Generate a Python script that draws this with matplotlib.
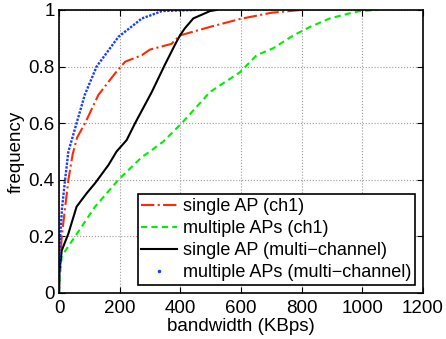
import matplotlib
matplotlib.use("Agg")
import matplotlib.pyplot as plt
from matplotlib.lines import Line2D

plt.rcParams['font.family'] = ['Liberation Sans', 'DejaVu Sans']

# CDF knots (bandwidth in KBps, cumulative frequency)
single_ch1_x = [0, 2, 9, 20, 31, 45, 60, 86, 130, 185, 218, 273, 300, 371, 399, 498, 597, 700, 800]
single_ch1_y = [0, 0.08, 0.2, 0.3, 0.4, 0.49, 0.55, 0.6, 0.7, 0.776, 0.817, 0.84, 0.86, 0.88, 0.91, 0.94, 0.968, 0.99, 1.0]

multi_ch1_x = [0, 2, 9, 53, 119, 196, 273, 300, 344, 405, 498, 597, 652, 707, 773, 828, 893, 959, 992, 1050]
multi_ch1_y = [0, 0.05, 0.13, 0.2, 0.305, 0.4, 0.48, 0.5, 0.535, 0.6, 0.71, 0.78, 0.84, 0.865, 0.91, 0.94, 0.97, 0.988, 0.996, 1.0]

single_mc_x = [0, 1, 9, 31, 58, 91, 119, 163, 190, 223, 251, 306, 349, 382, 399, 415, 443, 498, 520]
single_mc_y = [0, 0.07, 0.15, 0.21, 0.305, 0.352, 0.388, 0.452, 0.5, 0.54, 0.6, 0.71, 0.806, 0.876, 0.91, 0.935, 0.97, 0.996, 1.0]

multi_mc_x = [0, 1, 4, 10, 20, 31, 58, 85, 124, 196, 250, 273, 300, 339, 450]
multi_mc_y = [0, 0.1, 0.2, 0.3, 0.4, 0.5, 0.6, 0.7, 0.8, 0.905, 0.95, 0.97, 0.98, 0.996, 1.0]

labels = ['single AP (ch1)', 'multiple APs (ch1)',
          'single AP (multi\u2212channel)', 'multiple APs (multi\u2212channel)']

red, green, blue = '#ff2a00', '#00ee00', '#1a3cff'

fig = plt.figure(figsize=(4.46, 3.39), dpi=100)
ax = fig.add_axes([0.1323, 0.1357, 0.8157, 0.835])

ax.plot(single_ch1_x, single_ch1_y, color=red, ls='-.', lw=1.5)
ax.plot(multi_ch1_x, multi_ch1_y, color=green, ls=(0, (3, 2)), lw=1.5)
ax.plot(single_mc_x, single_mc_y, color='black', ls='-', lw=1.5)
ax.plot(multi_mc_x, multi_mc_y, color=blue, ls=(0, (1, 0.6)), lw=1.7)

ax.set_xlim(0, 1200)
ax.set_ylim(0, 1)
ax.set_xticks(range(0, 1201, 200))
ax.set_yticks([0, 0.2, 0.4, 0.6, 0.8, 1])
ax.set_yticklabels(['0', '0.2', '0.4', '0.6', '0.8', '1'])
ax.grid(True, ls=':', color='#999999', lw=0.8)
ax.tick_params(direction='in', top=True, right=True, labelsize=13.5, length=4)
ax.tick_params(axis='x', pad=5)
ax.tick_params(axis='y', pad=3)
for s in ax.spines.values():
    s.set_linewidth(1.2)

ax.set_xlabel('bandwidth (KBps)', fontsize=13.5, labelpad=0.5)
ax.set_ylabel('frequency', fontsize=13.5, labelpad=3)

handles = [
    Line2D([], [], color=red, ls='-.', lw=1.5),
    Line2D([], [], color=green, ls=(0, (3, 2)), lw=1.5),
    Line2D([], [], color='black', ls='-', lw=1.5),
    Line2D([], [], color=blue, ls='none', marker='.', markersize=3),
]
leg = ax.legend(handles, labels, loc='lower right', fontsize=13, frameon=True, fancybox=False,
                edgecolor='black', framealpha=1, borderpad=0.2, labelspacing=0.28,
                handlelength=2.0, handletextpad=0.3, borderaxespad=0.45)
leg.get_frame().set_linewidth(1.2)

fig.savefig('out.png', dpi=100)
